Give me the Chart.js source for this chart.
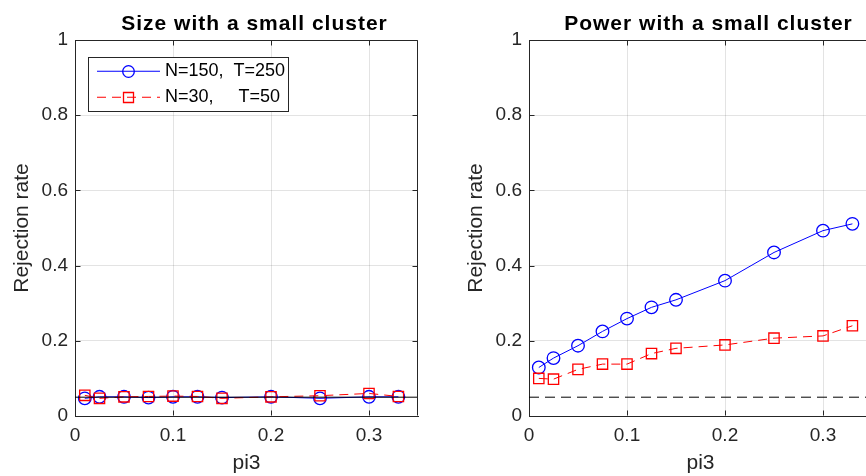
<!DOCTYPE html>
<html><head><meta charset="utf-8">
<script src="https://cdn.jsdelivr.net/npm/chart.js@4.4.1/dist/chart.umd.min.js"></script>
<style>
html,body{margin:0;padding:0;background:#fff;overflow:hidden;width:866px;height:476px;position:relative}
.box{position:absolute;top:0;width:433px;height:476px}
#b1{left:0}#b2{left:454px}
canvas{display:block}
</style></head><body>
<div class="box" id="b1"><canvas id="c1" width="433" height="476"></canvas></div>
<div class="box" id="b2"><canvas id="c2" width="433" height="476"></canvas></div>
<script>
// ---- data ----
const pi3 = [0.01, 0.025, 0.05, 0.075, 0.1, 0.125, 0.15, 0.2, 0.25, 0.3, 0.33];
const sizeLarge = [0.047, 0.051, 0.051, 0.049, 0.051, 0.051, 0.049, 0.051, 0.047, 0.051, 0.051];
const sizeSmall = [0.055, 0.047, 0.051, 0.052, 0.053, 0.052, 0.047, 0.051, 0.054, 0.060, 0.052];
const powerLarge = [0.129, 0.154, 0.187, 0.225, 0.259, 0.289, 0.309, 0.360, 0.435, 0.493, 0.511];
const powerSmall = [0.100, 0.098, 0.124, 0.138, 0.138, 0.166, 0.180, 0.189, 0.207, 0.213, 0.240];
const nominalX = [0, 0.35];
const nominalY = [0.05, 0.05];
const xTicks = [0, 0.1, 0.2, 0.3];
const yTicks = [0, 0.2, 0.4, 0.6, 0.8, 1];
const seriesLabels = ['N=150,  T=250', 'N=30,     T=50'];
const panelTitles = ['Size with a small cluster', 'Power with a small cluster'];
const xLabel = 'pi3';
const yLabel = 'Rejection rate';

const FONT = '"Liberation Sans", Arial, Helvetica, sans-serif';
const AX = '#262626';
const BLUE = '#0000ff', RED = '#ff0000';
const RED_DASH = [9, 6];

const pts = (xs, ys) => xs.map((x, i) => ({x, y: ys[i]}));

const decorPlugin = {
  id: 'decor',
  afterDatasetsDraw(chart) {
    const {ctx, chartArea: a, scales: {x, y}} = chart;
    ctx.save();
    ctx.strokeStyle = AX; ctx.lineWidth = 1; ctx.setLineDash([]);
    const L = Math.round(a.left) + 0.5, R = Math.round(a.right) - 0.5;
    const T = Math.round(a.top) + 0.5, B = Math.round(a.bottom) - 0.5;
    ctx.beginPath();
    ctx.moveTo(L, T); ctx.lineTo(R, T); ctx.lineTo(R, B);
    xTicks.forEach(v => {
      const px = Math.round(x.getPixelForValue(v)) + 0.5;
      ctx.moveTo(px, B); ctx.lineTo(px, B - 5);
      ctx.moveTo(px, T); ctx.lineTo(px, T + 5);
    });
    yTicks.forEach(v => {
      const py = Math.round(y.getPixelForValue(v)) + 0.5;
      ctx.moveTo(L, py); ctx.lineTo(L + 5, py);
      ctx.moveTo(R, py); ctx.lineTo(R - 5, py);
    });
    ctx.stroke();
    ctx.restore();
  },
  afterDraw(chart, args, opts) {
    const {ctx, chartArea: a} = chart;
    ctx.save();
    ctx.fillStyle = '#000';
    ctx.font = 'bold 21px ' + FONT;
    ctx.letterSpacing = '1px';
    ctx.textAlign = 'center';
    ctx.textBaseline = 'alphabetic';
    ctx.fillText(opts.title, (a.left + a.right) / 2 + 8, 30);
    ctx.letterSpacing = '0px';
    if (opts.legend) {
      const bx = 88.5, by = 57.5, bw = 200, bh = 54;
      ctx.fillStyle = '#fff';
      ctx.fillRect(bx, by, bw, bh);
      ctx.strokeStyle = AX; ctx.lineWidth = 1;
      ctx.strokeRect(bx, by, bw, bh);
      const rows = [71, 97];
      const styles = [
        {color: BLUE, dash: [], marker: 'circle'},
        {color: RED, dash: RED_DASH, marker: 'rect'}
      ];
      styles.forEach((st, i) => {
        const yy = rows[i] + 0.5;
        ctx.strokeStyle = st.color; ctx.lineWidth = 1.1;
        ctx.setLineDash(st.dash);
        ctx.beginPath(); ctx.moveTo(97, rows[i] + 0.2); ctx.lineTo(160, rows[i] + 0.2); ctx.stroke();
        ctx.setLineDash([]);
        ctx.lineWidth = 1.3;
        ctx.beginPath();
        if (st.marker === 'circle') ctx.arc(128.5, yy, 5.8, 0, Math.PI * 2);
        else ctx.rect(123.5, yy - 5, 10, 10);
        ctx.stroke();
        ctx.fillStyle = '#000';
        ctx.font = '18px ' + FONT;
        ctx.textAlign = 'left'; ctx.textBaseline = 'middle';
        ctx.fillText(seriesLabels[i], 165, yy);
      });
    }
    ctx.restore();
  }
};

function makeChart(id, large, small, title, showLegend, nominalDash) {
  return new Chart(document.getElementById(id), {
    type: 'line',
    data: {
      datasets: [
        {label: 'nominal', data: pts(nominalX, nominalY), borderColor: '#000', borderWidth: 1,
         borderDash: nominalDash, pointRadius: 0, order: 0},
        {label: seriesLabels[1], data: pts(pi3, small), borderColor: RED, borderWidth: 1,
         borderDash: RED_DASH, pointStyle: 'rect', pointRadius: 7.3, pointBorderWidth: 1.3,
         pointBackgroundColor: 'rgba(0,0,0,0)', pointBorderColor: RED, order: 1},
        {label: seriesLabels[0], data: pts(pi3, large), borderColor: BLUE, borderWidth: 1,
         pointStyle: 'circle', pointRadius: 6.3, pointBorderWidth: 1.3,
         pointBackgroundColor: 'rgba(0,0,0,0)', pointBorderColor: BLUE, order: 2}
      ]
    },
    options: {
      responsive: false, animation: false, devicePixelRatio: 1,
      layout: {padding: {top: 40, right: 15, left: 0, bottom: 0}},
      elements: {line: {tension: 0}},
      plugins: {legend: {display: false}, tooltip: {enabled: false},
        decor: {title: title, legend: showLegend}},
      scales: {
        x: {type: 'linear', min: 0, max: 0.35,
          afterBuildTicks: s => { s.ticks = xTicks.map(v => ({value: v})); },
          afterFit: s => { s.height = 60; },
          ticks: {font: {family: FONT, size: 19}, color: AX, padding: 8, maxRotation: 0,
            callback: v => String(v)},
          grid: {color: 'rgba(38,38,38,0.13)', drawTicks: false, lineWidth: 1},
          border: {color: AX, width: 1},
          title: {display: true, text: xLabel, color: AX, font: {family: FONT, size: 21},
            padding: {top: 0, bottom: 0}}
        },
        y: {type: 'linear', min: 0, max: 1,
          afterBuildTicks: s => { s.ticks = yTicks.map(v => ({value: v})); },
          afterFit: s => { s.width = 75; },
          ticks: {font: {family: FONT, size: 19}, color: AX, padding: 7,
            callback: v => String(v)},
          grid: {color: 'rgba(38,38,38,0.13)', drawTicks: false, lineWidth: 1},
          border: {color: AX, width: 1},
          title: {display: true, text: yLabel, color: AX, font: {family: FONT, size: 21},
            padding: {top: 10, bottom: 0}}
        }
      }
    },
    plugins: [decorPlugin]
  });
}

makeChart('c1', sizeLarge, sizeSmall, panelTitles[0], true, []);
makeChart('c2', powerLarge, powerSmall, panelTitles[1], false, [10, 6]);
</script>
</body></html>
